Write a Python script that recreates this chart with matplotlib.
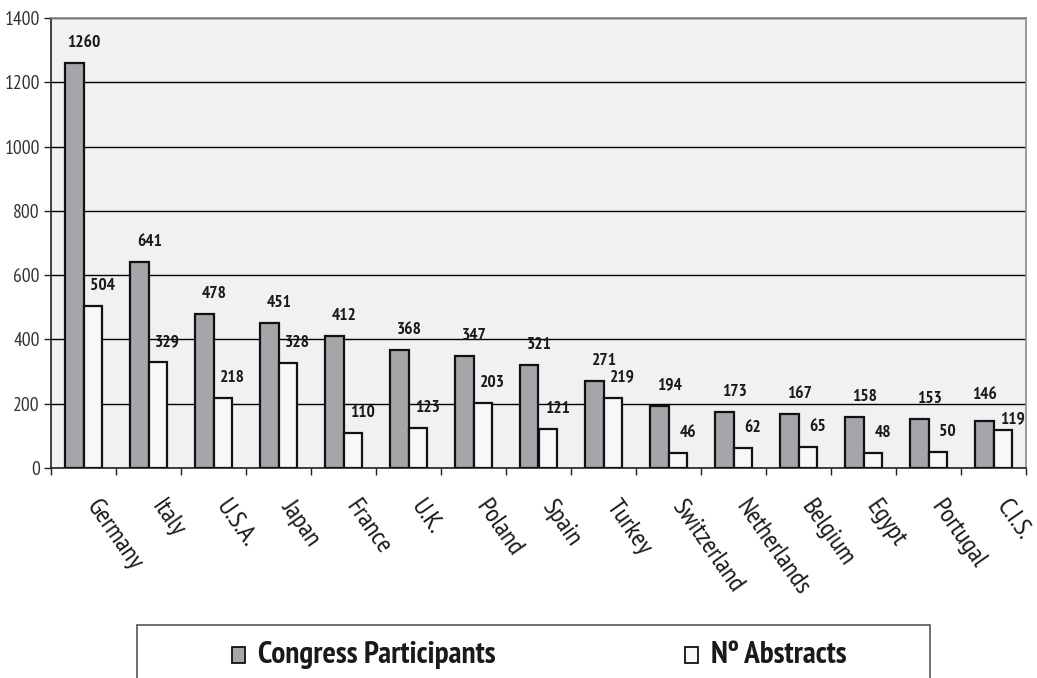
import matplotlib
matplotlib.use("Agg")
import matplotlib.pyplot as plt
from matplotlib.patches import Rectangle
import numpy as np

countries = ["Germany", "Italy", "U.S.A.", "Japan", "France", "U.K.", "Poland",
             "Spain", "Turkey", "Switzerland", "Netherlands", "Belgium", "Egypt",
             "Portugal", "C.I.S."]
participants = [1260, 641, 478, 451, 412, 368, 347, 321, 271, 194, 173, 167, 158, 153, 146]
abstracts = [504, 329, 218, 328, 110, 123, 203, 121, 219, 46, 62, 65, 48, 50, 119]
series_names = ["Congress Participants", "Nº Abstracts"]
y_ticks = [0, 200, 400, 600, 800, 1000, 1200, 1400]

FAM = ["PT Sans Narrow", "Roboto Condensed", "Archivo Narrow", "Liberation Sans", "DejaVu Sans"]
GRAY = "#a4a6a9"
WHITE = "#f8f8f8"
BG = "#f1f1f1"
TXT = "#1a1a1a"

W, H = 1037, 678
fig = plt.figure(figsize=(W / 100, H / 100), dpi=100)
fig.patch.set_facecolor("white")
ax = fig.add_axes([51 / W, (H - 468) / H, 975 / W, 450 / H])
ax.set_facecolor(BG)

n = len(countries)
centers = np.arange(n) + 0.5
bw = 0.285
ax.set_axisbelow(True)
ax.grid(axis="y", color="black", linewidth=1.0)
b1 = ax.bar(centers - bw / 2, participants, width=bw, color=GRAY,
            edgecolor="#111111", linewidth=1.6, zorder=3)
b2 = ax.bar(centers + bw / 2, abstracts, width=bw, color=WHITE,
            edgecolor="#111111", linewidth=1.6, zorder=3)

ax.set_xlim(0, n)
ax.set_ylim(0, 1400)
px_per_unit = 450 / 1400

# value labels; when the pair is nearly level, spread them apart vertically
for rp, ra, p, a in zip(b1, b2, participants, abstracts):
    close = abs(p - a) * px_per_unit < 14
    off_p = (0, 26) if close else (10, 20)
    off_a = (10, 11) if close else (10, 20)
    for r, v, off in ((rp, p, off_p), (ra, a, off_a)):
        ax.annotate(str(v), (r.get_x() + r.get_width() / 2, v),
                    xytext=off, textcoords="offset pixels",
                    ha="center", va="center", fontsize=12.5, fontweight="bold",
                    family=FAM, color=TXT, zorder=4)

ax.set_yticks(y_ticks)
ax.set_yticklabels([str(t) for t in y_ticks], family=FAM, fontsize=14, color="#333333")
ax.set_xticks(np.arange(n + 1))
ax.set_xticklabels([])
ax.tick_params(axis="both", direction="out", length=5, width=1, color="#222222")
ax.tick_params(axis="y", pad=3)

for s in ("top", "right"):
    ax.spines[s].set_color("#8a8a8a")
    ax.spines[s].set_linewidth(1.2)
for s in ("left", "bottom"):
    ax.spines[s].set_color("#222222")
    ax.spines[s].set_linewidth(1.2)

# rotated category names below the axis
for c, name in zip(centers, countries):
    ax.annotate(name, (c, 0), xytext=(17, -28), textcoords="offset pixels",
                rotation=-55, rotation_mode="anchor", ha="left", va="top",
                fontsize=19, family=FAM, color=TXT, annotation_clip=False)

# legend panel
fig.patches.append(Rectangle((137 / W, -0.05), (930 - 137) / W, 0.05 + (H - 625) / H,
                             transform=fig.transFigure, facecolor="white",
                             edgecolor="#555555", linewidth=1.2))
for x0, name, col in ((232, series_names[0], GRAY), (685, series_names[1], WHITE)):
    fig.patches.append(Rectangle((x0 / W, (H - 663) / H), 13 / W, 16 / H,
                                 transform=fig.transFigure, facecolor=col,
                                 edgecolor="#111111", linewidth=1.3))
    fig.text((x0 + 26) / W, (H - 655) / H, name, ha="left", va="center",
             fontsize=22.5, fontweight="bold", family=FAM, color=TXT)

fig.savefig("out.png", dpi=100)
